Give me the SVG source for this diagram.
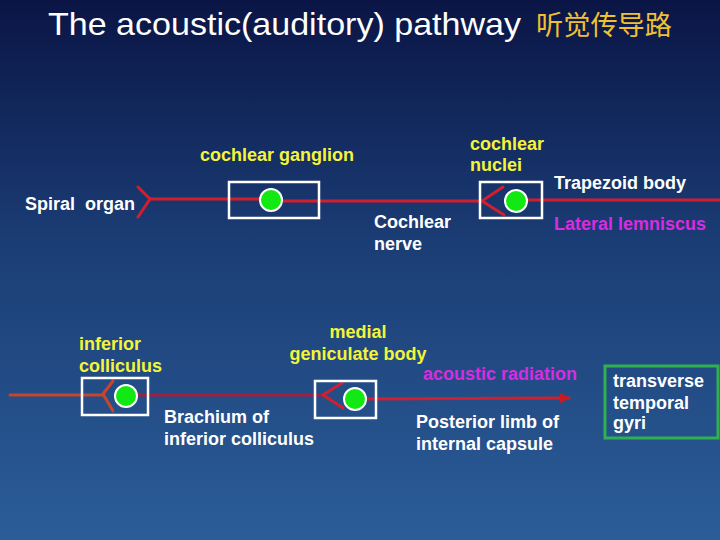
<svg xmlns="http://www.w3.org/2000/svg" width="720" height="540" viewBox="0 0 720 540">
<defs>
<linearGradient id="bg" x1="0" y1="0" x2="0" y2="1">
<stop offset="0" stop-color="#0a1545"/>
<stop offset="0.45" stop-color="#1b3d75"/>
<stop offset="1" stop-color="#2b5d98"/>
</linearGradient>
<marker id="arr" viewBox="0 0 10 10" refX="9" refY="5" markerWidth="3.5" markerHeight="3.5" orient="auto" markerUnits="strokeWidth">
<path d="M0,0 L10,5 L0,10 z" fill="#d01820"/>
</marker>
<style>
.t{font-family:"Liberation Sans",Arial,sans-serif;font-weight:bold;font-size:18px}
.w{fill:#ffffff}
.y{fill:#f4f43a}
.m{fill:#d52ee0}
.box{fill:none;stroke:#ffffff;stroke-width:2.5}
.cell{fill:#12e812;stroke:#ffffff;stroke-width:2}
.red{fill:none;stroke:#d02030;stroke-width:3;stroke-linecap:round;stroke-linejoin:round}
.org{fill:none;stroke:#c8452a;stroke-width:3;stroke-linecap:round;stroke-linejoin:round}
.mar{fill:none;stroke:#a02040;stroke-width:3}
</style>
</defs>
<rect width="720" height="540" fill="url(#bg)"/>
<g id="title">
<text x="48" y="35" font-family="Liberation Sans,Arial,sans-serif" font-size="32" fill="#ffffff" textLength="473" lengthAdjust="spacingAndGlyphs">The acoustic(auditory) pathway</text>
<text x="536" y="35" font-family="Noto Sans CJK SC,sans-serif" font-size="27" fill="#f0c030" textLength="136" lengthAdjust="spacingAndGlyphs">听觉传导路</text>
</g>
<g id="connectors">
<polyline class="red" points="138,187 150,199 138,217"/>
<line class="red" x1="150" y1="199" x2="260" y2="199"/>
<line class="red" x1="283" y1="201" x2="482" y2="201"/>
<polyline class="red" points="503,187 482,201 504,215"/>
<line class="red" x1="528" y1="200" x2="720" y2="200"/>
<line class="org" x1="10" y1="395" x2="103" y2="395"/>
<polyline class="org" points="113,381 103,394 113,411"/>
<line class="mar" x1="138" y1="395" x2="323" y2="395"/>
<polyline class="red" points="342,383 323,395 343,408"/>
<line class="red" x1="367" y1="399" x2="569" y2="398" marker-end="url(#arr)"/>
</g>
<g id="spiral-organ"><text class="t w" x="25" y="210" xml:space="preserve">Spiral  organ</text></g>
<g id="cochlear-ganglion">
<text class="t y" x="200" y="161">cochlear ganglion</text>
<rect class="box" x="229" y="182" width="90" height="36"/>
<circle class="cell" cx="271" cy="200" r="11"/>
</g>
<g id="cochlear-nerve"><text class="t w" x="374" y="228">Cochlear</text><text class="t w" x="374" y="250">nerve</text></g>
<g id="cochlear-nuclei">
<text class="t y" x="470" y="150">cochlear</text><text class="t y" x="470" y="171">nuclei</text>
<rect class="box" x="480" y="182" width="62" height="36"/>
<circle class="cell" cx="516" cy="201" r="11"/>
</g>
<g id="trapezoid-body"><text class="t w" x="554" y="189">Trapezoid body</text></g>
<g id="lateral-lemniscus"><text class="t m" x="554" y="230">Lateral lemniscus</text></g>
<g id="inferior-colliculus">
<text class="t y" x="79" y="350">inferior</text><text class="t y" x="79" y="372">colliculus</text>
<rect class="box" x="82" y="378" width="66" height="37"/>
<circle class="cell" cx="126" cy="396" r="11"/>
</g>
<g id="brachium"><text class="t w" x="164" y="423">Brachium of</text><text class="t w" x="164" y="445">inferior colliculus</text></g>
<g id="medial-geniculate-body">
<text class="t y" x="358" y="338" text-anchor="middle">medial</text><text class="t y" x="358" y="360" text-anchor="middle">geniculate body</text>
<rect class="box" x="315" y="381" width="61" height="37"/>
<circle class="cell" cx="355" cy="399" r="11"/>
</g>
<g id="acoustic-radiation"><text class="t m" x="423" y="380">acoustic radiation</text></g>
<g id="internal-capsule"><text class="t w" x="416" y="428">Posterior limb of</text><text class="t w" x="416" y="450">internal capsule</text></g>
<g id="transverse-temporal-gyri">
<rect x="605" y="366" width="113" height="72" fill="none" stroke="#30b050" stroke-width="3"/>
<text class="t w" x="613" y="387">transverse</text><text class="t w" x="613" y="409">temporal</text><text class="t w" x="613" y="429">gyri</text>
</g>
</svg>
